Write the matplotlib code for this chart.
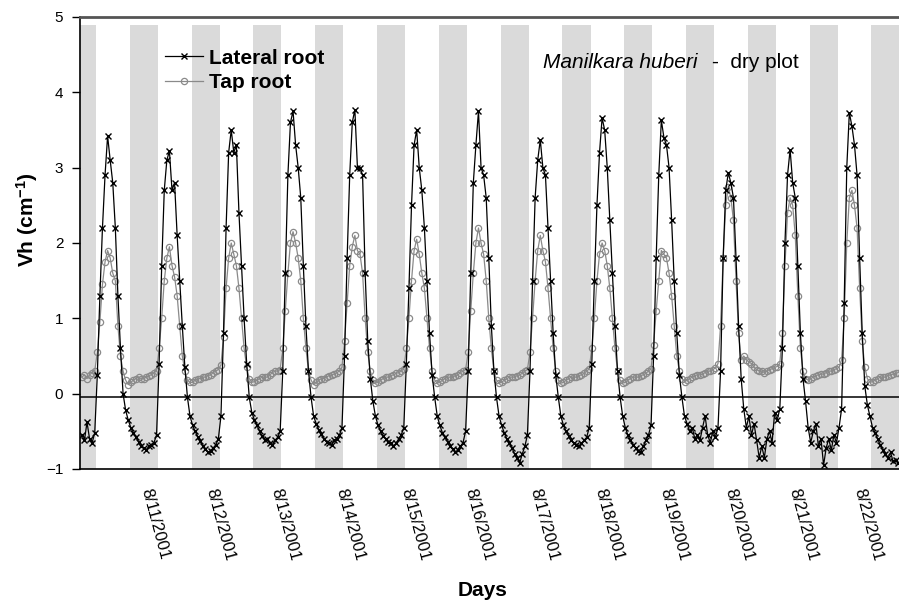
import matplotlib
matplotlib.use("Agg")
import matplotlib.pyplot as plt
import numpy as np

plt.rcParams['font.family'] = ['Liberation Sans', 'DejaVu Sans']
plt.rcParams['mathtext.fontset'] = 'custom'
plt.rcParams['mathtext.bf'] = 'Liberation Sans:bold'
plt.rcParams['mathtext.default'] = 'bf'

# hourly Vh readings starting 8/10/2001 00:00 (one row per day)
lateral_root = [
    -0.55, -0.62, -0.38, -0.60, -0.65, -0.52, 0.25, 1.30, 2.20, 2.90, 3.42, 3.10, 2.80, 2.20, 1.30, 0.60, 0.00, -0.22, -0.35, -0.45, -0.52, -0.58, -0.64, -0.70,
    -0.72, -0.75, -0.70, -0.68, -0.65, -0.55, 0.40, 1.70, 2.70, 3.10, 3.22, 2.70, 2.80, 2.10, 1.50, 0.90, 0.35, -0.05, -0.30, -0.42, -0.50, -0.57, -0.63, -0.70,
    -0.74, -0.78, -0.76, -0.72, -0.68, -0.60, -0.30, 0.80, 2.20, 3.20, 3.50, 3.20, 3.30, 2.40, 1.70, 1.00, 0.40, -0.05, -0.25, -0.35, -0.42, -0.50, -0.56, -0.62,
    -0.60, -0.65, -0.68, -0.62, -0.58, -0.50, 0.30, 1.60, 2.90, 3.60, 3.75, 3.30, 3.00, 2.60, 1.70, 0.90, 0.30, -0.05, -0.30, -0.40, -0.48, -0.54, -0.60, -0.64,
    -0.66, -0.68, -0.62, -0.60, -0.55, -0.45, 0.50, 1.80, 2.90, 3.60, 3.77, 3.00, 3.00, 2.90, 1.60, 0.70, 0.20, -0.10, -0.30, -0.42, -0.50, -0.56, -0.60, -0.64,
    -0.66, -0.70, -0.66, -0.60, -0.55, -0.45, 0.40, 1.40, 2.50, 3.30, 3.50, 3.00, 2.70, 2.20, 1.50, 0.80, 0.25, -0.05, -0.30, -0.42, -0.52, -0.58, -0.64, -0.70,
    -0.74, -0.78, -0.75, -0.70, -0.65, -0.50, 0.30, 1.60, 2.80, 3.30, 3.75, 3.00, 2.90, 2.60, 1.80, 0.90, 0.30, -0.05, -0.30, -0.42, -0.52, -0.60, -0.66, -0.72,
    -0.80, -0.85, -0.92, -0.80, -0.70, -0.55, 0.30, 1.50, 2.60, 3.10, 3.37, 3.00, 2.90, 2.20, 1.50, 0.80, 0.25, -0.05, -0.30, -0.42, -0.50, -0.56, -0.62, -0.66,
    -0.68, -0.70, -0.66, -0.62, -0.58, -0.45, 0.40, 1.50, 2.50, 3.20, 3.66, 3.50, 3.00, 2.30, 1.60, 0.90, 0.30, -0.05, -0.30, -0.45, -0.55, -0.62, -0.68, -0.72,
    -0.76, -0.78, -0.70, -0.62, -0.55, -0.42, 0.50, 1.80, 2.90, 3.63, 3.40, 3.30, 3.00, 2.30, 1.50, 0.80, 0.25, -0.05, -0.30, -0.40, -0.50, -0.45, -0.60, -0.55,
    -0.62, -0.45, -0.30, -0.55, -0.65, -0.50, -0.58, -0.45, 0.30, 1.80, 2.70, 2.93, 2.80, 2.60, 1.80, 0.90, 0.20, -0.20, -0.45, -0.30, -0.55, -0.40, -0.62, -0.85,
    -0.70, -0.85, -0.60, -0.50, -0.65, -0.25, -0.35, -0.20, 0.60, 2.00, 2.90, 3.24, 2.80, 2.60, 1.70, 0.80, 0.20, -0.10, -0.45, -0.65, -0.50, -0.40, -0.70, -0.60,
    -0.95, -0.72, -0.60, -0.75, -0.55, -0.65, -0.45, -0.20, 1.20, 3.00, 3.73, 3.55, 3.30, 2.90, 1.80, 0.80, 0.10, -0.15, -0.30, -0.45, -0.52, -0.60, -0.68, -0.75,
    -0.80, -0.85, -0.78, -0.90, -0.88, -0.92,
]

tap_root = [
    0.22, 0.25, 0.20, 0.25, 0.28, 0.30, 0.55, 0.95, 1.45, 1.75, 1.90, 1.80, 1.60, 1.50, 0.90, 0.50, 0.30, 0.18, 0.12, 0.15, 0.18, 0.20, 0.22, 0.20,
    0.20, 0.22, 0.24, 0.25, 0.28, 0.30, 0.60, 1.00, 1.50, 1.80, 1.95, 1.70, 1.55, 1.30, 0.90, 0.50, 0.30, 0.18, 0.15, 0.15, 0.18, 0.20, 0.20, 0.22,
    0.22, 0.24, 0.25, 0.28, 0.30, 0.32, 0.38, 0.75, 1.40, 1.80, 2.00, 1.85, 1.70, 1.40, 1.00, 0.60, 0.35, 0.20, 0.15, 0.16, 0.18, 0.20, 0.22, 0.22,
    0.22, 0.25, 0.28, 0.30, 0.30, 0.32, 0.60, 1.10, 1.60, 2.00, 2.15, 2.00, 1.80, 1.50, 1.00, 0.60, 0.30, 0.18, 0.12, 0.15, 0.18, 0.20, 0.20, 0.22,
    0.24, 0.25, 0.26, 0.28, 0.30, 0.35, 0.70, 1.20, 1.70, 1.95, 2.10, 1.90, 1.85, 1.60, 1.00, 0.55, 0.30, 0.18, 0.14, 0.15, 0.18, 0.20, 0.22, 0.22,
    0.24, 0.25, 0.27, 0.28, 0.30, 0.33, 0.60, 1.00, 1.50, 1.90, 2.05, 1.85, 1.60, 1.40, 1.00, 0.60, 0.30, 0.18, 0.14, 0.15, 0.18, 0.20, 0.22, 0.22,
    0.22, 0.24, 0.25, 0.28, 0.30, 0.32, 0.55, 1.10, 1.60, 2.00, 2.20, 2.00, 1.85, 1.50, 1.00, 0.60, 0.30, 0.18, 0.14, 0.15, 0.18, 0.20, 0.22, 0.22,
    0.22, 0.24, 0.25, 0.27, 0.30, 0.32, 0.55, 1.00, 1.50, 1.90, 2.10, 1.90, 1.75, 1.40, 1.00, 0.60, 0.30, 0.18, 0.14, 0.15, 0.18, 0.20, 0.22, 0.22,
    0.22, 0.24, 0.25, 0.27, 0.30, 0.33, 0.60, 1.00, 1.50, 1.85, 2.00, 1.90, 1.70, 1.40, 1.00, 0.60, 0.30, 0.18, 0.14, 0.15, 0.18, 0.20, 0.22, 0.22,
    0.22, 0.24, 0.25, 0.27, 0.30, 0.33, 0.65, 1.10, 1.50, 1.90, 1.85, 1.80, 1.60, 1.30, 0.90, 0.50, 0.30, 0.20, 0.16, 0.18, 0.20, 0.22, 0.24, 0.25,
    0.25, 0.26, 0.28, 0.30, 0.30, 0.32, 0.34, 0.40, 0.90, 1.80, 2.50, 2.75, 2.60, 2.30, 1.50, 0.80, 0.45, 0.50, 0.45, 0.42, 0.40, 0.35, 0.32, 0.30,
    0.30, 0.28, 0.30, 0.32, 0.33, 0.35, 0.36, 0.40, 0.80, 1.70, 2.40, 2.60, 2.50, 2.10, 1.30, 0.60, 0.30, 0.20, 0.18, 0.20, 0.22, 0.24, 0.25, 0.26,
    0.26, 0.28, 0.30, 0.30, 0.32, 0.33, 0.35, 0.45, 1.00, 2.00, 2.60, 2.70, 2.50, 2.20, 1.40, 0.70, 0.35, 0.20, 0.15, 0.16, 0.18, 0.20, 0.22, 0.22,
    0.22, 0.24, 0.25, 0.26, 0.27, 0.28,
]

date_labels = ['8/11/2001', '8/12/2001', '8/13/2001', '8/14/2001', '8/15/2001', '8/16/2001',
               '8/17/2001', '8/18/2001', '8/19/2001', '8/20/2001', '8/21/2001', '8/22/2001']

night_start = 18.6   # hour the grey night band begins
night_end = 5.5      # hour it ends next morning

days = np.arange(len(lateral_root)) / 24.0

fig = plt.figure(figsize=(8.99, 6.01), dpi=100)
ax = fig.add_axes([80 / 899, 132 / 601, 819 / 899, 452 / 601])
x_max = 13.22
ax.set_xlim(-0.03, x_max)
ax.set_ylim(-1, 5)

# night shading
band_top = (4.9 + 1) / 6
ax.axvspan(-0.1, night_end / 24, ymax=band_top, color='#dadada', lw=0, zorder=0)
for d in range(14):
    ax.axvspan(d + night_start / 24, d + 1 + night_end / 24, ymax=band_top,
               color='#dadada', lw=0, zorder=0)

ax.axhline(-0.05, color='black', lw=1.1, zorder=1)

ax.plot(days, tap_root, color='#8a8a8a', lw=0.9, marker='o', ms=4.5,
        mfc='none', mec='#8a8a8a', mew=0.9, label='Tap root', zorder=2)
ax.plot(days, lateral_root, color='black', lw=0.9, marker='x', ms=4.5,
        mew=1.0, label='Lateral root', zorder=3)

handles, labels = ax.get_legend_handles_labels()
leg = ax.legend(handles[::-1], labels[::-1], loc='upper left', bbox_to_anchor=(0.104, 0.93),
                frameon=False, borderpad=0, borderaxespad=0, handlelength=1.8,
                handletextpad=0.3, labelspacing=0.25, prop={'weight': 'bold', 'size': 15})

ax.text(543, 601 - 62, 'Manilkara huberi', transform=None, fontsize=15, style='italic', va='center')
ax.text(712, 601 - 62, '-  dry plot', transform=None, fontsize=15, va='center')

ax.spines['right'].set_visible(False)
ax.spines['top'].set_color('#555555')
ax.spines['top'].set_linewidth(2)
ax.spines['left'].set_linewidth(1.2)
ax.spines['bottom'].set_linewidth(1.2)

ax.set_yticks([-1, 0, 1, 2, 3, 4, 5])
ax.tick_params(axis='y', direction='out', length=6, width=1, pad=6, labelsize=11)

tick_pos = np.linspace(1.036, 12.57, len(date_labels))
ax.set_xticks(tick_pos)
ax.set_xticklabels(date_labels, rotation=-75, rotation_mode='anchor', ha='left', va='center')
ax.tick_params(axis='x', length=0, pad=14, labelsize=12)

fig.text(483 / 899, 1 - 590 / 601, 'Days', ha='center', va='center', fontsize=15, fontweight='bold')
fig.text(27 / 899, 1 - 220 / 601, 'Vh (cm$^{-1}$)', ha='center', va='center', rotation=90,
         fontsize=15, fontweight='bold')

fig.savefig('out.png', dpi=100)
